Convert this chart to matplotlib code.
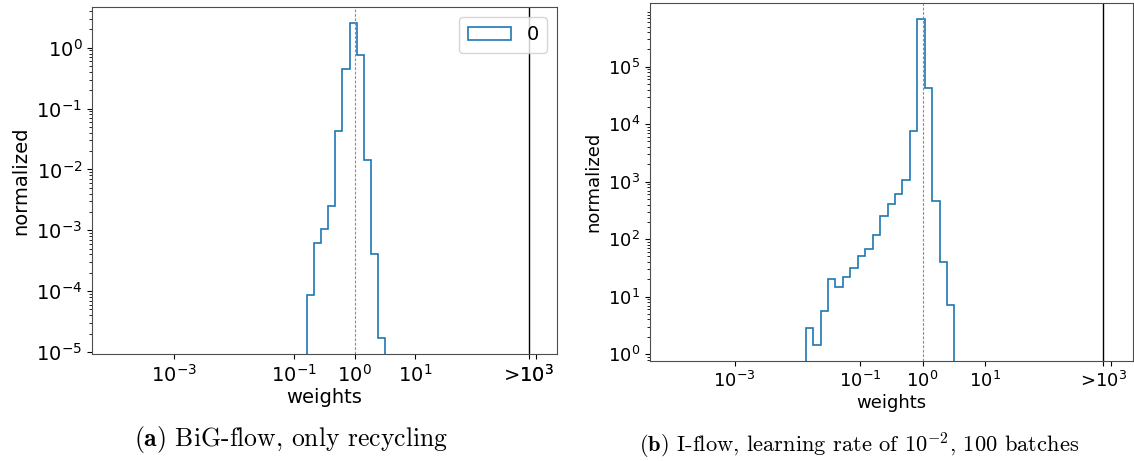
import numpy as np
import matplotlib
matplotlib.use("Agg")
import matplotlib.pyplot as plt
from matplotlib.patches import Patch
from matplotlib.ticker import FixedLocator, LogLocator, NullLocator

# Shared log-spaced binning: 59 bins between 1e-4 and 1e3, last bin holds overflow
edges = np.logspace(-4, 3, 60)

# (a) BiG-flow, only recycling -- density-normalised weight histogram
left_first_bin = 27
left_values = [8.5e-5, 6.1e-4, 1.06e-3, 2.5e-3, 0.043, 0.44, 2.52, 0.76,
               0.0144, 4.1e-4, 1.68e-5]

# (b) I-flow, learning rate 1e-2, 100 batches
right_first_bin = 18
right_values = [2.8, 1.43, 5.6, 20, 14.5, 21.6, 31.8, 50.8, 68, 118, 249,
                403, 601, 1067, 7700, 6.7e5, 43000, 460, 40, 7.1]

xtick_pos = [1e-3, 1e-1, 1e0, 1e1]
xtick_labels = [r"$10^{-3}$", r"$10^{-1}$", r"$10^{0}$", r"$10^{1}$"]
overflow_label = r">$10^{3}$"
legend_label = "0"

left_yticks = [1e-5, 1e-4, 1e-3, 1e-2, 1e-1, 1e0]
right_yticks = [1e0, 1e1, 1e2, 1e3, 1e4, 1e5]

caption_a = r"$\mathbf{(a)}$ BiG-flow, only recycling"
caption_b = r"$\mathbf{(b)}$ I-flow, learning rate of $10^{-2}$, 100 batches"

plt.rcParams["axes.edgecolor"] = "0.3"

W, H = 1134, 461
fig = plt.figure(figsize=(W / 100, H / 100), dpi=100)


def px_axes(x0, y0, x1, y1):
    return fig.add_axes([x0 / W, 1 - y1 / H, (x1 - x0) / W, (y1 - y0) / H])


def draw_panel(ax, first_bin, values, ylim, yticks, fs, show_plain_1e3,
               legend):
    vals = np.asarray(values, dtype=float)
    e = edges[first_bin:first_bin + len(vals) + 1]
    ax.stairs(vals, e, baseline=1e-12, color="C0", linewidth=1.2)
    ax.set_xscale("log")
    ax.set_yscale("log")
    ax.set_xlim(10 ** -4.35, 10 ** 3.35)
    ax.set_ylim(*ylim)
    ax.yaxis.set_major_locator(FixedLocator(yticks))
    ax.yaxis.set_minor_locator(LogLocator(base=10, subs=np.arange(2, 10),
                                          numticks=30))
    ax.axvline(1.0, color="0.55", linewidth=0.8, linestyle=(0, (2.5, 1.5)))
    ax.axvline(edges[-2], color="k", linewidth=1.0)
    ticks = xtick_pos + [edges[-2], 1e3]
    labels = xtick_labels + [overflow_label,
                             r"$10^{3}$" if show_plain_1e3 else ""]
    ax.set_xticks(ticks)
    ax.set_xticklabels(labels)
    ax.xaxis.set_minor_locator(NullLocator())
    ax.tick_params(axis="both", which="major", labelsize=fs)
    ax.set_xlabel("weights", fontsize=fs, labelpad=2)
    ax.set_ylabel("normalized", fontsize=fs)
    if legend:
        handle = Patch(facecolor="white", edgecolor="C0", linewidth=1.2,
                       label=legend_label)
        ax.legend(handles=[handle], fontsize=fs, loc="upper right",
                  handlelength=2.2, borderpad=0.45)


ax1 = px_axes(92, 7, 557, 354)
draw_panel(ax1, left_first_bin, left_values, (10 ** -5.033, 10 ** 0.669),
           left_yticks, 14, True, True)

ax2 = px_axes(650, 3, 1132.5, 361)
draw_panel(ax2, right_first_bin, right_values, (10 ** -0.12, 10 ** 6.108),
           right_yticks, 13, False, False)

fig.text(291 / W, 1 - 439 / H, caption_a, ha="center", va="center",
         fontsize=18.5, family="cmr10", math_fontfamily="cm")
fig.text(859 / W, 1 - 446 / H, caption_b, ha="center", va="center",
         fontsize=16.2, family="cmr10", math_fontfamily="cm")

fig.savefig("out.png", dpi=100)
